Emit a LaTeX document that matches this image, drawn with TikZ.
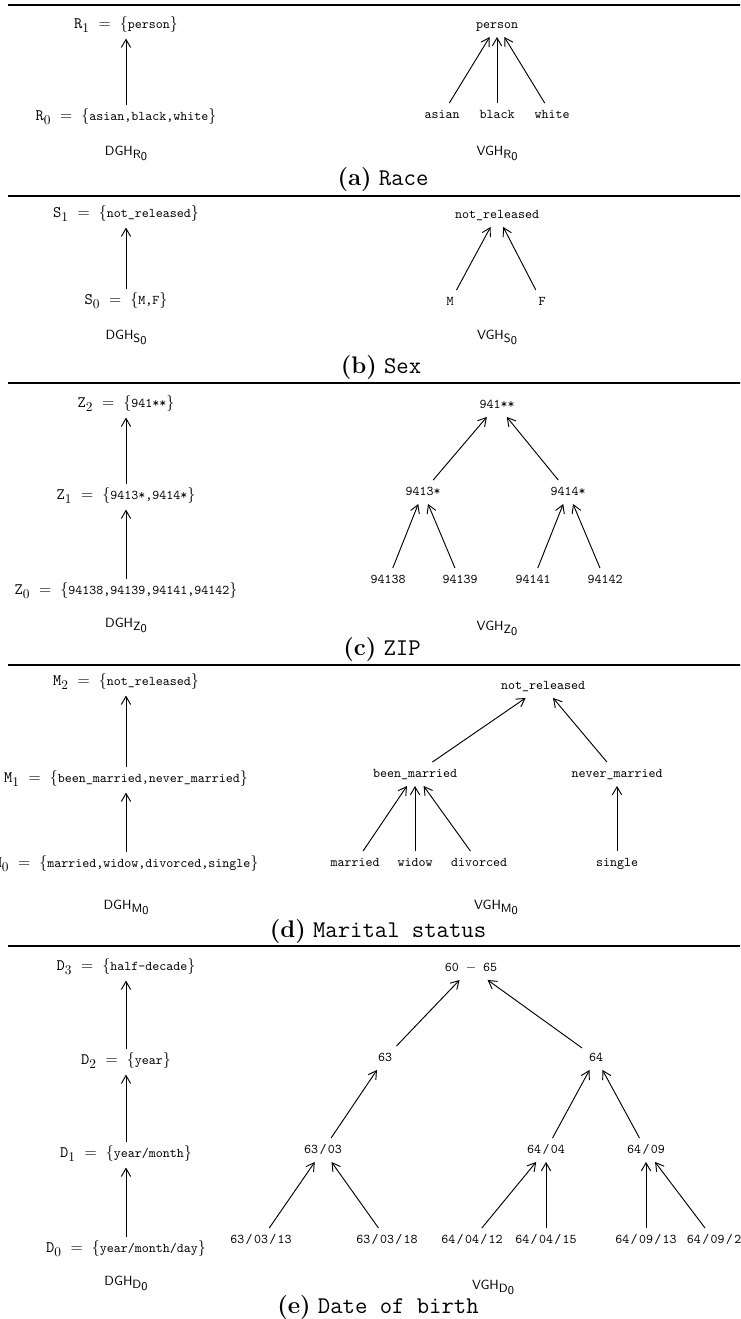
\documentclass[tikz,border=0pt]{standalone}
\usepackage{amsmath}
\usepackage{amssymb}
\usepackage{tikz}
\usetikzlibrary{arrows.meta}

\newcommand{\tv}[1]{\mbox{\normalsize\ttfamily #1}}
\newcommand{\sla}{\kern1pt/\kern1pt}
\newcommand{\lv}[2]{\mathtt{#1}_{\mbox{\normalsize #2}}}
\newcommand{\hname}[2]{#1\raisebox{-0.55ex}{\small #2\raisebox{-0.35ex}{0}}}

\begin{document}
\begin{tikzpicture}[x=0.75pt,y=-0.75pt,
        >={Straight Barb[length=6pt,width=7pt]},
        lvl/.style={inner sep=4.5pt,text height=1.6ex,text depth=.6ex,font=\large},
        val/.style={inner sep=5pt,text height=1.5ex,text depth=.25ex,font=\ttfamily},
        gh/.style={font=\sffamily},
        captext/.style={font=\fontsize{18}{21}\selectfont},
        gen/.style={->,line width=0.7pt},
        seprule/.style={line width=1pt}]
    \useasboundingbox (0,0) rectangle (740,1319);
    \clip (0,0) rectangle (740,1319);

    \foreach \y in {5,196,383,665,946}
        \draw[seprule] (8,\y) -- (745,\y);

    % (a) race
    \node[lvl] (R1) at (126,26) {$\lv{R}{1}\;=\;\{\tv{person}\}$};
    \node[lvl] (R0) at (126,118) {$\lv{R}{0}\;=\;\{\tv{asian,black,white}\}$};
    \draw[gen] (R0) -- (R1);
    \node[gh] (dghR) at (126,153) {\hname{DGH}{R}};

    \node[val] (person) at (497,25) {person};
    \node[val] (asian) at (442,115) {asian};
    \node[val] (black) at (497,115) {black};
    \node[val] (white) at (552,115) {white};
    \draw[gen] (asian) -- (person);
    \draw[gen] (black) -- (person);
    \draw[gen] (white) -- (person);
    \node[gh] (vghR) at (497,153) {\hname{VGH}{R}};

    \node[captext] (capa) at (383,180) {\textbf{(a)} \texttt{Race}};

    % (b) sex
    \node[lvl] (S1) at (126,215) {$\lv{S}{1}\;=\;\{\tv{not\_released}\}$};
    \node[lvl] (S0) at (126,302) {$\lv{S}{0}\;=\;\{\tv{M,F}\}$};
    \draw[gen] (S0) -- (S1);
    \node[gh] (dghS) at (126,337) {\hname{DGH}{S}};

    \node[val] (notrel) at (497,215) {not\_released};
    \node[val] (male) at (450,302) {M};
    \node[val] (female) at (542,302) {F};
    \draw[gen] (male) -- (notrel);
    \draw[gen] (female) -- (notrel);
    \node[gh] (vghS) at (497,337) {\hname{VGH}{S}};

    \node[captext] (capb) at (381,368) {\textbf{(b)} \texttt{Sex}};

    % (c) zip
    \node[lvl] (Z2) at (126,405) {$\lv{Z}{2}\;=\;\{\tv{941**}\}$};
    \node[lvl] (Z1) at (126,497) {$\lv{Z}{1}\;=\;\{\tv{9413*,9414*}\}$};
    \node[lvl] (Z0) at (126,592) {$\lv{Z}{0}\;=\;\{\tv{94138,94139,94141,94142}\}$};
    \draw[gen] (Z1) -- (Z2);
    \draw[gen] (Z0) -- (Z1);
    \node[gh] (dghZ) at (126,625) {\hname{DGH}{Z}};

    \node[val] (z941) at (497,405) {941**};
    \node[val] (z9413) at (423,492) {9413*};
    \node[val] (z9414) at (568,492) {9414*};
    \node[val] (z94138) at (388,580) {94138};
    \node[val] (z94139) at (460,580) {94139};
    \node[val] (z94141) at (533,580) {94141};
    \node[val] (z94142) at (605,580) {94142};
    \draw[gen] (z9413) -- (z941);
    \draw[gen] (z9414) -- (z941);
    \draw[gen] (z94138) -- (z9413);
    \draw[gen] (z94139) -- (z9413);
    \draw[gen] (z94141) -- (z9414);
    \draw[gen] (z94142) -- (z9414);
    \node[gh] (vghZ) at (497,628) {\hname{VGH}{Z}};

    \node[captext] (capc) at (382,650) {\textbf{(c)} \texttt{ZIP}};

    % (d) marital status
    \node[lvl] (M2) at (126,683) {$\lv{M}{2}\;=\;\{\tv{not\_released}\}$};
    \node[lvl] (M1) at (126,780) {$\lv{M}{1}\;=\;\{\tv{been\_married,never\_married}\}$};
    \node[lvl] (M0) at (126,865) {$\lv{M}{0}\;=\;\{\tv{married,widow,divorced,single}\}$};
    \draw[gen] (M1) -- (M2);
    \draw[gen] (M0) -- (M1);
    \node[gh] (dghM) at (126,907) {\hname{DGH}{M}};

    \node[val] (mnotrel) at (543,686) {not\_released};
    \node[val] (been) at (415,774) {been\_married};
    \node[val] (never) at (617,774) {never\_married};
    \node[val] (married) at (355,863) {married};
    \node[val] (widow) at (415,863) {widow};
    \node[val] (divorced) at (479,863) {divorced};
    \node[val] (single) at (617,863) {single};
    \draw[gen] (been) -- (mnotrel);
    \draw[gen] (never) -- (mnotrel);
    \draw[gen] (married) -- (been);
    \draw[gen] (widow) -- (been);
    \draw[gen] (divorced) -- (been);
    \draw[gen] (single) -- (never);
    \node[gh] (vghM) at (496,907) {\hname{VGH}{M}};

    \node[captext] (capd) at (378,932) {\textbf{(d)} \texttt{Marital status}};

    % (e) date of birth
    \node[lvl] (D3) at (126,968) {$\lv{D}{3}\;=\;\{\tv{half-decade}\}$};
    \node[lvl] (D2) at (126,1062) {$\lv{D}{2}\;=\;\{\tv{year}\}$};
    \node[lvl] (D1) at (126,1155) {$\lv{D}{1}\;=\;\{\tv{year/month}\}$};
    \node[lvl] (D0) at (126,1250) {$\lv{D}{0}\;=\;\{\tv{year/month/day}\}$};
    \draw[gen] (D2) -- (D3);
    \draw[gen] (D1) -- (D2);
    \draw[gen] (D0) -- (D1);
    \node[gh] (dghD) at (126,1283) {\hname{DGH}{D}};

    \node[val] (d6065) at (471,968) {60~$-$~65};
    \node[val] (d63) at (385,1058) {63};
    \node[val] (d64) at (596,1058) {64};
    \node[val] (d6303) at (323,1150) {63\sla03};
    \node[val] (d6404) at (546,1150) {64\sla04};
    \node[val] (d6409) at (646,1150) {64\sla09};
    \node[val] (d630313) at (261,1240) {63\sla03\sla13};
    \node[val] (d630318) at (387,1240) {63\sla03\sla18};
    \node[val] (d640412) at (472,1240) {64\sla04\sla12};
    \node[val] (d640415) at (546,1240) {64\sla04\sla15};
    \node[val] (d640913) at (646,1240) {64\sla09\sla13};
    \node[val,anchor=west] (d64092) at (680,1240) {64\sla09\sla2};
    \draw[gen] (d63) -- (d6065);
    \draw[gen] (d64) -- (d6065);
    \draw[gen] (d6303) -- (d63);
    \draw[gen] (d6404) -- (d64);
    \draw[gen] (d6409) -- (d64);
    \draw[gen] (d630313) -- (d6303);
    \draw[gen] (d630318) -- (d6303);
    \draw[gen] (d640412) -- (d6404);
    \draw[gen] (d640415) -- (d6404);
    \draw[gen] (d640913) -- (d6409);
    \draw[gen] (d64092) -- (d6409);
    \node[gh] (vghD) at (493,1287) {\hname{VGH}{D}};

    \node[captext] (cape) at (378,1307) {\textbf{(e)} \texttt{Date of birth}};
\end{tikzpicture}
\end{document}
